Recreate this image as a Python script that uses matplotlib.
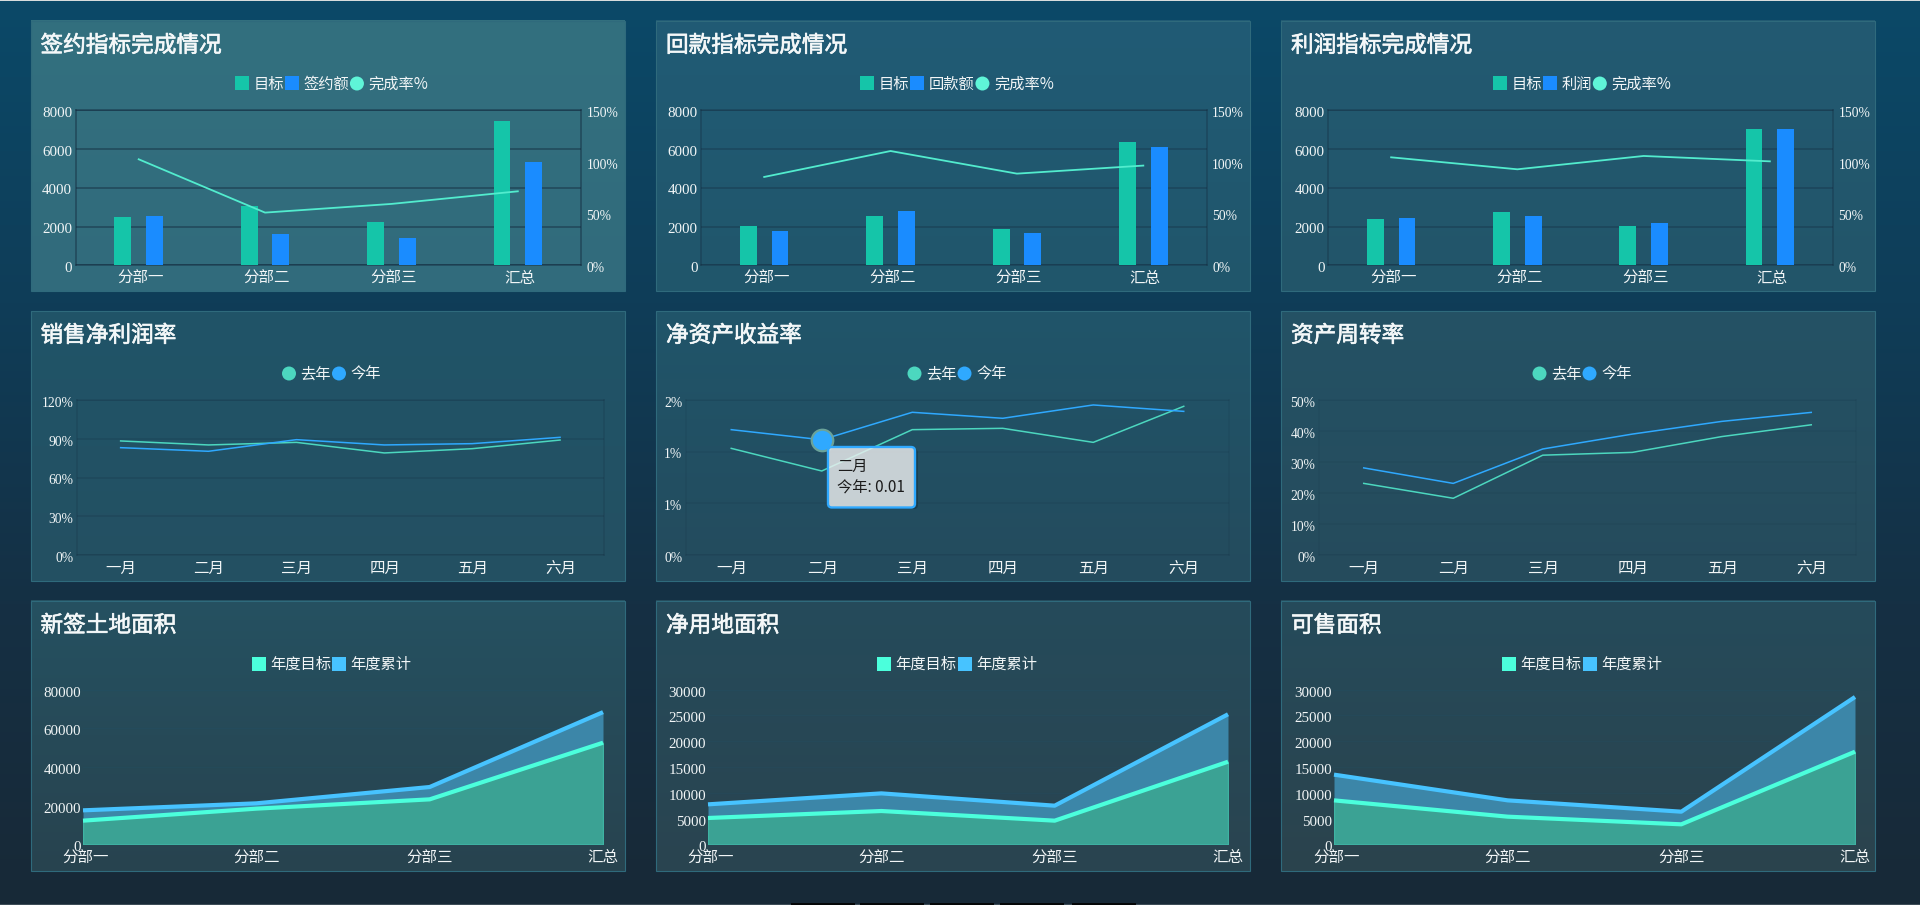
import numpy as np
import matplotlib
matplotlib.use('Agg')
import matplotlib.pyplot as plt
import matplotlib.patheffects as pe
from matplotlib.colors import to_rgb
from matplotlib.patches import Rectangle, Circle, FancyBboxPatch
from matplotlib.transforms import ScaledTranslation

plt.rcParams['font.family'] = ['Noto Sans CJK SC', 'DejaVu Sans']

W, H = 1920, 905

# ---------- data ----------
branches = ['分部一', '分部二', '分部三', '汇总']
months = ['一月', '二月', '三月', '四月', '五月', '六月']

sign_title = '签约指标完成情况'
sign_target = [2495, 3062, 2236, 7450]
sign_actual = [2546, 1600, 1410, 5333]
sign_rate = [102.6, 51, 59.4, 71.6]

back_title = '回款指标完成情况'
back_target = [2030, 2546, 1858, 6365]
back_actual = [1772, 2804, 1669, 6107]
back_rate = [85.5, 110.6, 88.7, 96.5]

profit_title = '利润指标完成情况'
profit_target = [2374, 2753, 2030, 7020]
profit_actual = [2443, 2546, 2185, 7020]
profit_rate = [104.5, 92.9, 105.8, 100.6]

margin_last = [88.3, 85.2, 87.2, 79, 82.3, 89]
margin_this = [83.1, 80.3, 89.3, 85.2, 86.2, 91.1]
roe_last = [1.032, 0.813, 1.213, 1.226, 1.09, 1.439]
roe_this = [1.213, 1.115, 1.381, 1.323, 1.452, 1.39]
turn_last = [23.1, 18.3, 32.2, 33.1, 38.2, 42]
turn_this = [28.1, 23.1, 34.2, 39, 43.1, 46]

land_goal = [12220, 18420, 23230, 52500]
land_total = [17550, 21170, 29600, 68300]
net_goal = [5097, 6452, 4580, 16000]
net_total = [7742, 9870, 7484, 25200]
sale_goal = [8516, 5355, 3871, 17950]
sale_total = [13500, 8516, 6322, 28550]

# ---------- style ----------
C_BAR1, C_BAR2, C_RATE = '#15c5a9', '#1a8cff', '#52ecce'
C_LAST, C_THIS = '#4cd7bf', '#2fa9ff'
C_GOAL, C_TOTAL = '#4bffdc', '#47c3ff'
C_GOAL_FILL, C_TOTAL_FILL = '#3ba294', '#3c86a8'
TXT = '#f2f6f7'
NUM_FONT = ['Liberation Serif', 'Noto Sans CJK SC']

col_x = [30.5, 656, 1281]
row_y = [21, 311, 601]
PW, PH = 594, 270
panel_cols = [
    [('#33707f', '#316b7c'), ('#215b75', '#20566b'), ('#225a72', '#235569')],
    [('#205468', '#245062'), ('#20556a', '#244b5d'), ('#245265', '#264b5c')],
    [('#255161', '#28434f'), ('#254b5b', '#2a4450'), ('#254b5b', '#2b434d')],
]
bg_stops = ['#0b4968', '#0f3d58', '#153044', '#182937']
x_bounds = [
    [(45, 550.5), (45, 550.5), (47, 552)],
    [(46.2, 573.5), (30, 573), (38, 575)],
    [(52.5, 572.5), (52, 572), (53, 574)],
]
y_bounds = [(89.3, 244.3), (89, 244), (88.5, 243.3)]

fig = plt.figure(figsize=(W / 100, H / 100), dpi=100)


def vgrad(colors, n=256):
    rgb = np.array([to_rgb(c) for c in colors])
    t = np.linspace(0, len(colors) - 1, n)
    img = np.stack([np.interp(t, np.arange(len(colors)), rgb[:, i]) for i in range(3)], axis=1)
    return img[:, None, :]


# background layer in pixel coordinates
bg = fig.add_axes([0, 0, 1, 1], zorder=0)
bg.imshow(vgrad(bg_stops), extent=(0, W, H, 0), aspect='auto')
for r in range(3):
    for c in range(3):
        x, y = col_x[c], row_y[r]
        bg.imshow(vgrad(panel_cols[r][c]), extent=(x, x + PW, y + PH, y), aspect='auto')
        bg.add_patch(Rectangle((x, y), PW, PH, fill=False, ec='#2f6a7c', lw=0.8))
bg.set_xlim(0, W)
bg.set_ylim(H, 0)
bg.axis('off')
bg.add_patch(Rectangle((0, 0), W, 1.2, fc='#d9dcdd', ec='none'))
bg.add_patch(Rectangle((0, H - 1.2), W, 1.2, fc='#3d4c57', ec='none'))
for sx in (791, 860, 930, 1000, 1072):
    bg.add_patch(Rectangle((sx, H - 1.6), 64, 1.6, fc='#050708', ec='none'))

# overlay for titles, legends and the tooltip
ov = fig.add_axes([0, 0, 1, 1], zorder=10)
ov.set_xlim(0, W)
ov.set_ylim(H, 0)
ov.axis('off')
ov.patch.set_alpha(0)
renderer = fig.canvas.get_renderer()


def shift(labels, dx_px=0, dy_px=0):
    off = ScaledTranslation(dx_px / 100, -dy_px / 100, fig.dpi_scale_trans)
    for lab in labels:
        lab.set_transform(lab.get_transform() + off)


def make_axes(r, c):
    x0, x1 = x_bounds[r][c]
    y0, y1 = y_bounds[r]
    px0, px1 = col_x[c] + x0, col_x[c] + x1
    py0, py1 = row_y[r] + y0, row_y[r] + y1
    ax = fig.add_axes([px0 / W, 1 - py1 / H, (px1 - px0) / W, (py1 - py0) / H], zorder=5)
    ax.patch.set_alpha(0)
    ax.tick_params(length=0)
    return ax


def style_box(ax, alpha):
    ax.grid(axis='y', color='#13293d', alpha=alpha, lw=1.1)
    ax.grid(axis='x', visible=False)
    ax.set_axisbelow(True)
    for s in ax.spines.values():
        s.set_color('#13293d')
        s.set_alpha(alpha)
        s.set_linewidth(1.1)


def ticks_text(ax, ypad=2.5):
    ax.tick_params(axis='y', labelsize=10.2, labelcolor=TXT, pad=ypad)
    ax.tick_params(axis='x', labelsize=11.2, labelcolor=TXT, pad=3)


def number_font(labels, size):
    for lab in labels:
        lab.set_fontfamily(NUM_FONT)
        lab.set_fontsize(size)


def title_legend(r, c, title, items):
    x, y = col_x[c], row_y[r]
    ov.text(x + 10, y + 24.5, title, color='#f4f8f9', fontsize=16.3, va='center', ha='left',
            path_effects=[pe.withStroke(linewidth=0.45, foreground='#f4f8f9')])
    ts = []
    total = 0
    for label, color, kind in items:
        t = ov.text(0, y + 63.3, label, color=TXT, fontsize=11, va='center', ha='left')
        w = t.get_window_extent(renderer).width
        ts.append((t, w, color, kind))
        total += 14 + 4.5 + w
    total += 1.0 * (len(items) - 1)
    cur = x + 301 - total / 2
    for t, w, color, kind in ts:
        if kind == 's':
            ov.add_patch(Rectangle((cur, y + 55.5), 14, 14, fc=color, ec='none'))
        else:
            ov.add_patch(Circle((cur + 7, y + 62.5), 7, fc=color, ec='none'))
        t.set_x(cur + 18.5)
        cur += 14 + 4.5 + w + 1.0


def bar_panel(c, title, name, target, actual, rate, alpha):
    ax = make_axes(0, c)
    pos = np.arange(len(branches))
    ax.bar(pos - 0.125, target, 0.133, color=C_BAR1, zorder=3)
    ax.bar(pos + 0.125, actual, 0.133, color=C_BAR2, zorder=3)
    ax.set_xlim(-0.5, 3.5)
    ax.set_ylim(0, 8000)
    ax.set_yticks([0, 2000, 4000, 6000, 8000])
    ax.set_xticks(pos, branches)
    style_box(ax, alpha)
    ticks_text(ax)
    number_font(ax.get_yticklabels(), 10.8)
    shift(ax.get_yticklabels(), dy_px=1.6)
    shift(ax.get_xticklabels(), dx_px=2, dy_px=0.5)
    ax2 = ax.twinx()
    ax2.patch.set_alpha(0)
    ax2.plot(pos, rate, color=C_RATE, lw=1.3, zorder=4)
    ax2.set_ylim(0, 150)
    ax2.set_yticks([0, 50, 100, 150], ['0%', '50%', '100%', '150%'])
    ax2.tick_params(length=0, axis='y', labelsize=10.2, labelcolor=TXT, pad=4)
    number_font(ax2.get_yticklabels(), 9.8)
    shift(ax2.get_yticklabels(), dy_px=1.6)
    for s in ax2.spines.values():
        s.set_visible(False)
    title_legend(0, c, title, [('目标', C_BAR1, 's'), (name, C_BAR2, 's'), ('完成率%', '#5ff5d8', 'c')])


def line_panel(c, title, last, this, ymax, ticks, labels, alpha):
    ax = make_axes(1, c)
    pos = np.arange(len(months))
    ax.plot(pos, last, color=C_LAST, lw=1.1, zorder=3)
    ax.plot(pos, this, color=C_THIS, lw=1.1, zorder=3)
    ax.set_xlim(-0.5, 5.5)
    ax.set_ylim(0, ymax)
    ax.set_yticks(ticks, labels)
    ax.set_xticks(pos, months)
    style_box(ax, alpha)
    ticks_text(ax)
    number_font(ax.get_yticklabels(), 9.8)
    shift(ax.get_yticklabels(), dy_px=1.8)
    shift(ax.get_xticklabels(), dx_px=0.5, dy_px=0.5)
    title_legend(1, c, title, [('去年', C_LAST, 'c'), ('今年', C_THIS, 'c')])
    return ax


def area_panel(c, title, goal, total, ymax, ticks):
    ax = make_axes(2, c)
    pos = np.arange(len(branches))
    ax.fill_between(pos, 0, total, color=C_TOTAL_FILL, lw=0, zorder=2)
    ax.fill_between(pos, 0, goal, facecolor=C_GOAL_FILL, edgecolor='#3fb3a3', lw=1, zorder=3)
    ax.plot(pos, total, color=C_TOTAL, lw=3, zorder=4, solid_capstyle='butt', clip_on=False)
    ax.plot(pos, goal, color=C_GOAL, lw=3, zorder=5, solid_capstyle='butt', clip_on=False)
    ax.set_xlim(0, 3)
    ax.set_ylim(0, ymax)
    ax.set_yticks(ticks)
    ax.set_xticks(pos, branches)
    ax.grid(axis='y', color='#1b5a7a', alpha=0.12, lw=0.8)
    ax.set_axisbelow(True)
    for s in ax.spines.values():
        s.set_visible(False)
    ticks_text(ax, ypad=1.5)
    number_font(ax.get_yticklabels(), 10.8)
    shift(ax.get_yticklabels(), dy_px=2)
    xlabs = ax.get_xticklabels()
    shift(xlabs[:1], dx_px=3, dy_px=1)
    shift(xlabs[1:], dy_px=1)
    title_legend(2, c, title, [('年度目标', C_GOAL, 's'), ('年度累计', C_TOTAL, 's')])


bar_panel(0, sign_title, '签约额', sign_target, sign_actual, sign_rate, 0.55)
bar_panel(1, back_title, '回款额', back_target, back_actual, back_rate, 0.38)
bar_panel(2, profit_title, '利润', profit_target, profit_actual, profit_rate, 0.38)

line_panel(0, '销售净利润率', margin_last, margin_this, 120, [0, 30, 60, 90, 120],
           ['0%', '30%', '60%', '90%', '120%'], 0.22)
roe_ax = line_panel(1, '净资产收益率', roe_last, roe_this, 1.5, [0, 0.5, 1.0, 1.5],
                    ['0%', '1%', '1%', '2%'], 0.12)
line_panel(2, '资产周转率', turn_last, turn_this, 50, [0, 10, 20, 30, 40, 50],
           ['0%', '10%', '20%', '30%', '40%', '50%'], 0.09)

# highlighted point
roe_ax.plot([1], [roe_this[1]], 'o', ms=15.5, mfc=C_THIS, mec='#6aa39a', mew=1.6, zorder=6)

area_panel(0, '新签土地面积', land_goal, land_total, 80000, [0, 20000, 40000, 60000, 80000])
area_panel(1, '净用地面积', net_goal, net_total, 30000, [0, 5000, 10000, 15000, 20000, 25000, 30000])
area_panel(2, '可售面积', sale_goal, sale_total, 30000, [0, 5000, 10000, 15000, 20000, 25000, 30000])

# tooltip
ov.add_patch(FancyBboxPatch((831, 450), 86, 58, boxstyle='round,pad=1,rounding_size=4',
                            fc=(0, 0, 0, 0.2), ec='none', zorder=1))
ov.add_patch(FancyBboxPatch((828, 447), 87, 60.5, boxstyle='round,pad=0,rounding_size=4',
                            fc=(1, 1, 1, 0.76), ec=C_THIS, lw=1.7, zorder=2))
ov.text(837, 466, '二月', color='#1b1b1b', fontsize=11, va='center', zorder=3)
ov.text(837, 488, '今年: 0.01', color='#1b1b1b', fontsize=11, va='center', zorder=3)

fig.savefig('out.png', dpi=100)
